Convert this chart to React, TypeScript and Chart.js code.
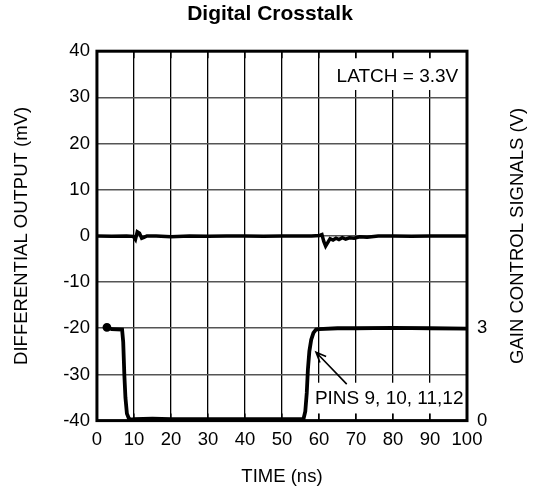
import React, { useEffect, useRef } from "react";
import { Chart, registerables } from "chart.js";

Chart.register(...registerables);

// ---- data ----
const timeTicks = [0, 10, 20, 30, 40, 50, 60, 70, 80, 90, 100];
const mvTicks = [-40, -30, -20, -10, 0, 10, 20, 30, 40];
const gainTicks = [0, 3];

const crosstalkTime = [0, 4, 8, 9.8, 10.4, 10.9, 11.5, 12.1, 12.7, 13.5, 16, 20, 25, 30, 35, 40, 45, 50, 55, 58, 60.2, 60.8, 61.3, 61.8, 62.4, 63.0, 63.8, 64.6, 65.4, 66.3, 67.2, 68.2, 69.5, 71, 73, 76, 80, 85, 90, 95, 100];
const crosstalkMv = [0, -0.1, 0, -0.1, -0.8, 0.9, 0.6, -0.5, -0.3, 0, 0, -0.2, 0, -0.1, 0, 0, -0.1, 0, 0, 0, 0.1, 0.3, -1.2, -2.2, -1.4, -0.6, -0.9, -0.5, -0.8, -0.4, -0.7, -0.4, -0.5, -0.2, -0.3, 0, 0, -0.1, 0, 0, 0];

const gainTime = [2.7, 4, 6.8, 7.1, 7.4, 7.7, 8.1, 8.6, 9.2, 10, 15, 20, 30, 40, 50, 55.8, 56.3, 56.7, 57.0, 57.4, 57.9, 58.5, 59.2, 60, 65, 70, 80, 90, 100];
const gainMv = [-19.8, -20.2, -20.3, -23, -30, -35, -38.5, -39.5, -39.8, -39.7, -39.6, -39.7, -39.7, -39.7, -39.7, -39.7, -38, -34, -29, -25, -22.5, -21, -20.3, -20.2, -20.0, -20.0, -19.9, -20.0, -20.1];

// ---- annotations (data coordinates) ----
const ANN = {
  latchText: "LATCH = 3.3V",
  latchAt: [81.2, 34.4],
  latchBox: [63.5, 100, 38.5, 31.6],
  pinsText: "PINS 9, 10, 11,12",
  pinsAt: [58.9, -35.3],
  pinsBox: [58.1, 100, -31.8, -38.5],
  arrowFrom: [67.5, -32.1],
  arrowTo: [59.2, -25.2],
  rightTitle: "GAIN CONTROL SIGNALS (V)",
};

const FONT = '"Liberation Sans", Arial, Helvetica, sans-serif';

const annotPlugin = {
  id: "annot",
  afterDatasetsDraw(chart: any) {
    const { ctx, chartArea: a, scales } = chart;
    const x = scales.x, y = scales.y, y2 = scales.y2;
    const px = (v: number) => x.getPixelForValue(v);
    const py = (v: number) => y.getPixelForValue(v);
    ctx.save();
    ctx.fillStyle = "#fff";
    const box = (b: number[]) => {
      const l = px(b[0]), r = px(b[1]), t = py(b[2]), bt = py(b[3]);
      ctx.fillRect(l, t, r - l, bt - t);
    };
    box(ANN.latchBox);
    box(ANN.pinsBox);
    // inner ticks
    ctx.strokeStyle = "#000";
    ctx.lineWidth = 1.3;
    ctx.beginPath();
    for (const v of timeTicks) {
      const p = px(v);
      ctx.moveTo(p, a.top);
      ctx.lineTo(p, a.top + 7);
      ctx.moveTo(p, a.bottom);
      ctx.lineTo(p, a.bottom - 7);
    }
    ctx.stroke();
    // texts
    ctx.fillStyle = "#000";
    ctx.font = `19px ${FONT}`;
    ctx.textBaseline = "middle";
    ctx.textAlign = "center";
    ctx.fillText(ANN.latchText, px(ANN.latchAt[0]), py(ANN.latchAt[1]));
    ctx.textAlign = "left";
    ctx.fillText(ANN.pinsText, px(ANN.pinsAt[0]), py(ANN.pinsAt[1]));
    // arrow
    const x0 = px(ANN.arrowFrom[0]), y0 = py(ANN.arrowFrom[1]);
    const x1 = px(ANN.arrowTo[0]), y1 = py(ANN.arrowTo[1]);
    const ang = Math.atan2(y1 - y0, x1 - x0);
    ctx.lineWidth = 1.6;
    ctx.beginPath();
    ctx.moveTo(x0, y0);
    ctx.lineTo(x1, y1);
    const L = 11, w = 0.4;
    ctx.moveTo(x1 - L * Math.cos(ang - w), y1 - L * Math.sin(ang - w));
    ctx.lineTo(x1, y1);
    ctx.lineTo(x1 - L * Math.cos(ang + w), y1 - L * Math.sin(ang + w));
    ctx.stroke();
    // frame
    ctx.lineWidth = 3;
    ctx.strokeRect(a.left, a.top, a.right - a.left, a.bottom - a.top);
    // right axis title (reads bottom to top)
    ctx.save();
    ctx.translate(y2.right - 22, (a.top + a.bottom) / 2);
    ctx.rotate(-Math.PI / 2);
    ctx.textAlign = "center";
    ctx.textBaseline = "middle";
    ctx.font = `18.5px ${FONT}`;
    ctx.fillText(ANN.rightTitle, 0, 0);
    ctx.restore();
    ctx.restore();
  },
};

export default function App() {
  const ref = useRef<HTMLCanvasElement | null>(null);
  useEffect(() => {
    if (!ref.current) return;
    Chart.defaults.font.family = FONT;
    Chart.defaults.color = "#000";
    const chart = new Chart(ref.current, {
      type: "line",
      data: {
        datasets: [
          {
            label: "Differential output",
            data: crosstalkTime.map((t, i) => ({ x: t, y: crosstalkMv[i] })),
            borderColor: "#000",
            borderWidth: 3.5,
            pointRadius: 0,
            tension: 0,
            yAxisID: "y",
          },
          {
            label: "Gain control",
            data: gainTime.map((t, i) => ({ x: t, y: gainMv[i] })),
            borderColor: "#000",
            backgroundColor: "#000",
            borderWidth: 3.8,
            pointRadius: gainTime.map((_, i) => (i === 0 ? 2.5 : 0)),
            tension: 0,
            yAxisID: "y",
          },
        ],
      },
      options: {
        animation: false,
        responsive: false,
        layout: { padding: { left: 0, right: 0, top: 0, bottom: 0 } },
        plugins: {
          legend: { display: false },
          tooltip: { enabled: false },
          title: {
            display: true,
            text: "Digital Crosstalk",
            color: "#000",
            font: { size: 21, weight: "bold", family: FONT },
            padding: { top: 2, bottom: 24 },
          },
        },
        scales: {
          x: {
            type: "linear",
            min: 0,
            max: 100,
            afterBuildTicks: (s: any) => {
              s.ticks = timeTicks.map((v) => ({ value: v }));
            },
            ticks: { font: { size: 18.5 }, padding: 8, color: "#000", maxRotation: 0 },
            grid: { color: "#000", lineWidth: 1.3, drawTicks: false },
            border: { display: false },
            title: {
              display: true,
              text: "TIME (ns)",
              color: "#000",
              font: { size: 18.5 },
              padding: { top: 7, bottom: 4 },
            },
          },
          y: {
            type: "linear",
            position: "left",
            min: -40,
            max: 40,
            afterBuildTicks: (s: any) => {
              s.ticks = mvTicks.map((v) => ({ value: v }));
            },
            ticks: { font: { size: 18.5 }, padding: 7, color: "#000" },
            grid: { color: "#555", lineWidth: 1.6, drawTicks: false },
            border: { display: false },
            title: {
              display: true,
              text: "DIFFERENTIAL OUTPUT (mV)",
              color: "#000",
              font: { size: 18.5 },
              padding: { top: 11, bottom: 23 },
            },
          },
          y2: {
            type: "linear",
            position: "right",
            min: 0,
            max: 12,
            afterBuildTicks: (s: any) => {
              s.ticks = gainTicks.map((v) => ({ value: v }));
            },
            afterFit: (s: any) => {
              s.width = 73;
            },
            ticks: { font: { size: 18.5 }, padding: 10, color: "#000" },
            grid: { display: false, drawTicks: false },
            border: { display: false },
            title: { display: false },
          },
        },
      },
      plugins: [annotPlugin],
    } as any);
    return () => chart.destroy();
  }, []);
  return (
    <div style={{ position: "fixed", left: 0, top: 0, width: 540, height: 492, background: "#fff" }}>
      <canvas ref={ref} width={540} height={492} />
    </div>
  );
}
